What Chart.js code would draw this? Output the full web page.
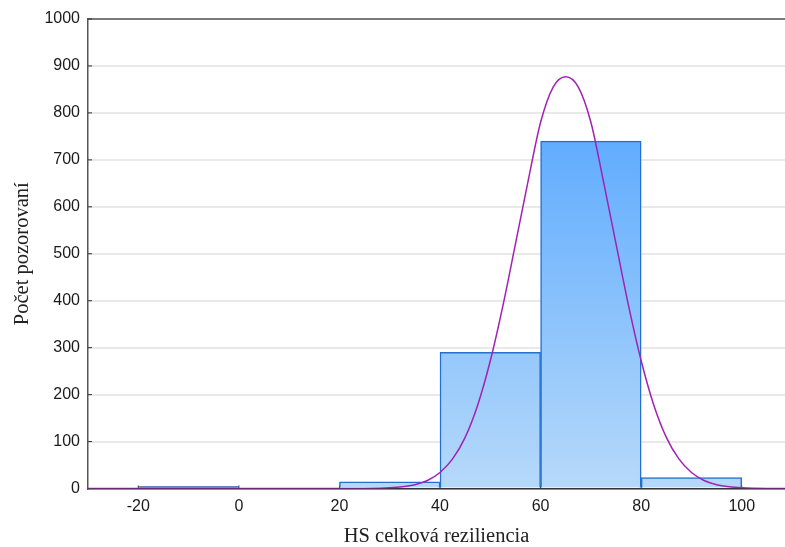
<!DOCTYPE html>
<html>
<head>
<meta charset="utf-8">
<script src="https://cdn.jsdelivr.net/npm/chart.js@4.4.1/dist/chart.umd.min.js"></script>
<style>
  html, body { margin: 0; padding: 0; background: #fff; }
  #wrap { width: 785px; height: 547px; }
</style>
</head>
<body>
<div id="wrap"><canvas id="histChart"></canvas></div>
<script>
// === Histogram data ===
const binCenters = [-10, 10, 30, 50, 70, 90];
const binCounts = [4, 0, 14, 290, 740, 23];

// fitted normal curve, estimated points
const curveX = [-30, 20, 25, 27.5, 30, 32.5, 35, 37.5, 40, 42.5, 45, 47.5, 50, 52.5, 55, 57.5, 60, 62.5, 65,
  67.5, 70, 72.5, 75, 77.5, 80, 82.5, 85, 87.5, 90, 92.5, 95, 97.5, 100, 102.5, 105, 110];
const curveY = [0, 0, 0.2, 0.6, 1.5, 3.6, 8, 17, 34, 63, 109, 178, 272, 389, 521, 654, 780, 855, 877,
  855, 780, 654, 521, 389, 272, 178, 109, 63, 34, 17, 8, 3.6, 1.5, 0.6, 0.2, 0];

const xTicks = [-20, 0, 20, 40, 60, 80, 100];
const yTicks = [0, 100, 200, 300, 400, 500, 600, 700, 800, 900, 1000];

const xTitle = "HS celková reziliencia";
const yTitle = "Počet pozorovaní";

// very low bars merge with the axis into a dark line
function isTiny(context) {
  return context.raw && context.raw.y < 10;
}

// === Bar fill: one vertical gradient over the plot area ===
function barGradient(context) {
  if (isTiny(context)) return "#1d3a8f";
  const chart = context.chart;
  const area = chart.chartArea;
  if (!area) return "#8cc2fb";
  const g = chart.ctx.createLinearGradient(0, area.top, 0, area.bottom);
  g.addColorStop(0, "rgb(67,157,255)");
  g.addColorStop(1, "rgb(182,217,250)");
  return g;
}

function barBorder(context) {
  return isTiny(context) ? "#1d3a8f" : "#2370cf";
}

// top frame line + small inward tick marks
const frameTop = {
  id: "frameTop",
  beforeDatasetsDraw(chart) {
    const { ctx, chartArea, scales } = chart;
    ctx.save();
    ctx.strokeStyle = "#555";
    ctx.lineWidth = 1.5;
    ctx.beginPath();
    ctx.moveTo(chartArea.left, chartArea.top);
    ctx.lineTo(chartArea.right, chartArea.top);
    ctx.stroke();
    ctx.strokeStyle = "#333";
    ctx.lineWidth = 1;
    ctx.beginPath();
    yTicks.forEach((v) => {
      const y = scales.y.getPixelForValue(v);
      ctx.moveTo(chartArea.left, y);
      ctx.lineTo(chartArea.left + 4, y);
    });
    xTicks.forEach((v) => {
      const x = scales.x.getPixelForValue(v);
      ctx.moveTo(x, chartArea.bottom);
      ctx.lineTo(x, chartArea.bottom - 3);
    });
    ctx.stroke();
    ctx.restore();
  },
};

const ctx = document.getElementById("histChart").getContext("2d");
new Chart(ctx, {
  type: "bar",
  data: {
    datasets: [
      {
        type: "line",
        data: curveX.map((x, i) => ({ x, y: curveY[i] })),
        borderColor: "#a320b5",
        borderWidth: 1.5,
        pointRadius: 0,
        cubicInterpolationMode: "monotone",
        fill: false,
        order: 0,
      },
      {
        type: "bar",
        data: binCenters.map((x, i) => ({ x, y: binCounts[i] })),
        backgroundColor: barGradient,
        borderColor: barBorder,
        borderWidth: 1.5,
        borderSkipped: "bottom",
        barPercentage: 1,
        categoryPercentage: 1,
        order: 1,
      },
    ],
  },
  options: {
    responsive: true,
    maintainAspectRatio: false,
    animation: false,
    layout: { padding: { top: 19, right: 0, left: 0, bottom: 0 } },
    plugins: { legend: { display: false }, tooltip: { enabled: false } },
    scales: {
      x: {
        type: "linear",
        min: -30,
        max: 108.6,
        offset: false,
        afterBuildTicks: (scale) => {
          scale.ticks = xTicks.map((v) => ({ value: v }));
        },
        afterFit: (scale) => {
          scale.height = 58.5;
        },
        grid: { display: false, drawTicks: false },
        border: { display: true, color: "#333", width: 1.5 },
        ticks: {
          padding: 8,
          color: "#1a1a1a",
          font: { family: "Liberation Sans", size: 16 },
          callback: (v) => String(v),
        },
        title: {
          display: true,
          text: xTitle,
          color: "#222",
          padding: 0,
          font: { family: "Liberation Serif", size: 20.5, lineHeight: 1 },
        },
      },
      y: {
        min: 0,
        max: 1000,
        afterBuildTicks: (scale) => {
          scale.ticks = yTicks.map((v) => ({ value: v }));
        },
        afterFit: (scale) => {
          scale.width = 88;
        },
        grid: { color: "#e9e9e9", lineWidth: 2, drawTicks: false },
        border: { display: true, color: "#555", width: 1.5 },
        ticks: {
          padding: 8,
          color: "#1a1a1a",
          font: { family: "Liberation Sans", size: 16 },
          callback: (v) => String(v),
        },
        title: {
          display: true,
          text: yTitle,
          color: "#222",
          padding: { top: 12 },
          font: { family: "Liberation Serif", size: 20.5, lineHeight: 1 },
        },
      },
    },
  },
  plugins: [frameTop],
});
</script>
</body>
</html>
